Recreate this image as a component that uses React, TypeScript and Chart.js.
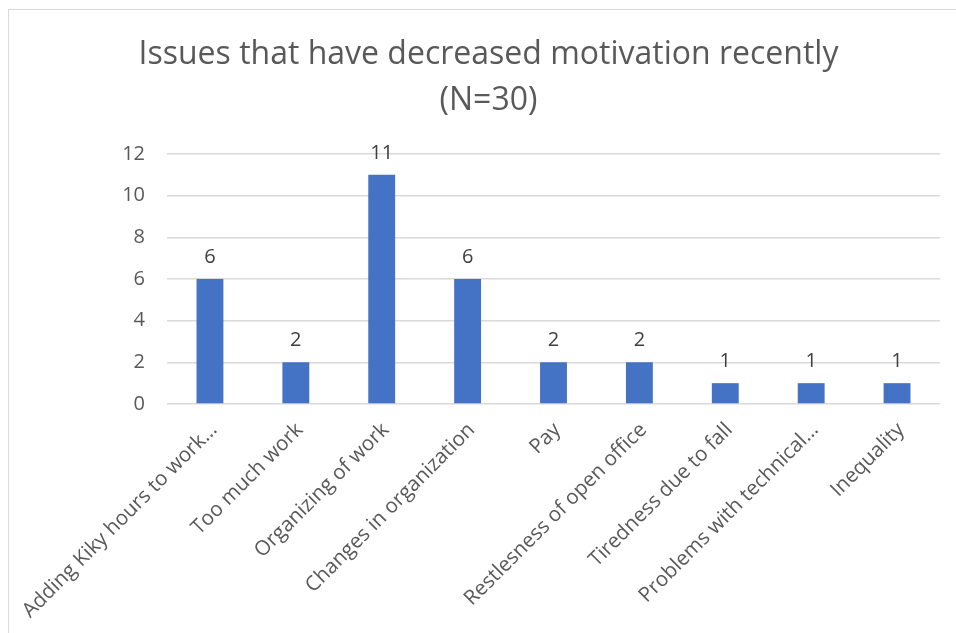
import React, { useEffect, useRef } from "react";
import { Chart, registerables } from "chart.js";

Chart.register(...registerables);

const titleLines = ["Issues that have decreased motivation recently", "(N=30)"];
const categories = [
  "Adding Kiky hours to work…",
  "Too much work",
  "Organizing of work",
  "Changes in organization",
  "Pay",
  "Restlesness of open office",
  "Tiredness due to fall",
  "Problems with technical…",
  "Inequality",
];
const counts = [6, 2, 11, 6, 2, 2, 1, 1, 1];
const yTicks = [0, 2, 4, 6, 8, 10, 12];

const FONT = "'Open Sans', 'DejaVu Sans', sans-serif";
const TEXT = "#595959";

// Two-line chart title, each line centred over the canvas.
const titlePlugin = {
  id: "stackedTitle",
  afterDraw(chart: any) {
    const { ctx, width } = chart;
    ctx.save();
    ctx.fillStyle = TEXT;
    ctx.font = `32px ${FONT}`;
    ctx.textAlign = "center";
    ctx.textBaseline = "alphabetic";
    ctx.fillText(titleLines[0], width / 2 + 6, 54);
    ctx.fillText(titleLines[1], width / 2 + 6, 100);
    ctx.restore();
  },
};

// Value labels above each bar.
const valueLabelPlugin = {
  id: "valueLabels",
  afterDatasetsDraw(chart: any) {
    const { ctx } = chart;
    const meta = chart.getDatasetMeta(0);
    ctx.save();
    ctx.fillStyle = "#404040";
    ctx.font = `20px ${FONT}`;
    ctx.textAlign = "center";
    ctx.textBaseline = "alphabetic";
    meta.data.forEach((bar: any, i: number) => {
      ctx.fillText(String(counts[i]), bar.x, bar.y - 16);
    });
    ctx.restore();
  },
};

export default function App() {
  const canvasRef = useRef<HTMLCanvasElement | null>(null);

  useEffect(() => {
    if (!canvasRef.current) return;
    const chart = new Chart(canvasRef.current, {
      type: "bar",
      data: {
        labels: categories,
        datasets: [
          {
            data: counts,
            backgroundColor: "#4472C4",
            borderWidth: 0,
            barPercentage: 0.313,
            categoryPercentage: 1,
          },
        ],
      },
      options: {
        animation: false,
        responsive: false,
        layout: { padding: { top: 144, right: 16, left: 0, bottom: 0 } },
        plugins: {
          legend: { display: false },
          title: { display: false },
          tooltip: { enabled: false },
        },
        scales: {
          x: {
            grid: { display: false },
            border: { display: false },
            ticks: {
              color: TEXT,
              font: { family: FONT, size: 20.5 },
              minRotation: 45,
              maxRotation: 45,
              autoSkip: false,
              padding: 6,
              labelOffset: 4,
            },
            afterFit(scale: any) {
              scale.height = 229;
              // rotated labels may hang past the edges; keep the plot area fixed
              scale.paddingLeft = 0;
              scale.paddingRight = 0;
            },
          },
          y: {
            min: 0,
            max: 12,
            afterBuildTicks(scale: any) {
              scale.ticks = yTicks.map((v) => ({ value: v }));
            },
            grid: { color: "#d9d9d9", lineWidth: 1.5, drawTicks: false },
            border: { display: false },
            ticks: {
              color: TEXT,
              font: { family: FONT, size: 20 },
              padding: 22,
            },
            afterFit(scale: any) {
              scale.width = 158;
            },
          },
        },
      },
      plugins: [titlePlugin, valueLabelPlugin],
    });
    return () => chart.destroy();
  }, []);

  return (
    <div
      style={{
        position: "absolute",
        left: 8,
        top: 9,
        width: 948,
        height: 624,
        borderTop: "1px solid #d9d9d9",
        borderLeft: "1px solid #d9d9d9",
        overflow: "hidden",
        background: "#ffffff",
      }}
    >
      <canvas ref={canvasRef} width={947} height={623} style={{ display: "block" }} />
    </div>
  );
}
